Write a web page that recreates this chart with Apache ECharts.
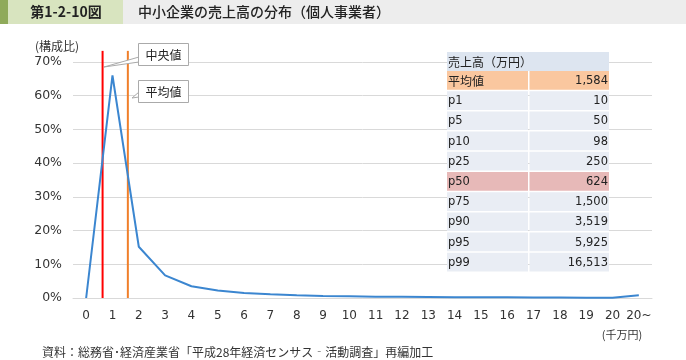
<!DOCTYPE html>
<html><head><meta charset="utf-8">
<script src="https://cdn.jsdelivr.net/npm/echarts@6/dist/echarts.min.js"></script>
<style>html,body{margin:0;padding:0;background:#fff}#c{width:686px;height:360px}</style>
</head><body><div id="c"></div>
<script>
var categories = ['0','1','2','3','4','5','6','7','8','9','10','11','12','13','14','15','16','17','18','19','20','20~'];
var shares = [0, 66, 15.2, 6.7, 3.5, 2.2, 1.5, 1.1, 0.8, 0.6, 0.5, 0.4, 0.35, 0.3, 0.25, 0.2, 0.2, 0.15, 0.15, 0.1, 0.1, 0.8];
var medianX = [0.624, 0.624];
var meanX = [1.584, 1.584];
var vLineY = [0, 73.3];
var yTicks = [0,10,20,30,40,50,60,70];
var tableHeader = '売上高（万円）';
var tableLabels = ['平均値','p1','p5','p10','p25','p50','p75','p90','p95','p99'];
var tableValues = ['1,584','10','50','98','250','624','1,500','3,519','5,925','16,513'];
var tableColors = ['#fac79f','#e9edf4','#e9edf4','#e9edf4','#e9edf4','#e7b9b8','#e9edf4','#e9edf4','#e9edf4','#e9edf4'];

var FONT = '"Noto Sans CJK JP", sans-serif';
var NUMF = '"DejaVu Sans", sans-serif';
var chart = echarts.init(document.getElementById('c'));

var graphics = [
  {type:'rect', shape:{x:0,y:0,width:8,height:24}, style:{fill:'#8faa5a'}},
  {type:'rect', shape:{x:8,y:0,width:115,height:24}, style:{fill:'#d8e4bf'}},
  {type:'rect', shape:{x:123,y:0,width:563,height:24}, style:{fill:'#ededed'}},
  {type:'text', x:66, y:12, style:{text:'第1-2-10図', font:'bold 14px '+FONT, fill:'#222', align:'center', verticalAlign:'middle'}},
  {type:'text', x:138, y:12, style:{text:'中小企業の売上高の分布（個人事業者）', font:'500 14px '+FONT, fill:'#222', align:'left', verticalAlign:'middle'}},
  {type:'text', x:35, y:46, style:{text:'(構成比)', font:'12px '+FONT, fill:'#333', verticalAlign:'middle'}},
  {type:'text', x:622, y:335, style:{text:'(千万円)', font:'11px '+FONT, fill:'#333', align:'center', verticalAlign:'middle'}},
  {type:'text', x:42, y:352, style:{text:'資料：総務省･経済産業省「平成28年経済センサス‐活動調査」再編加工', font:'12px '+FONT, fill:'#333', verticalAlign:'middle'}},
  // callouts
  {type:'polygon', shape:{points:[[104,67],[139,57],[139,62]]}, style:{fill:'#fff', stroke:'#aaa', lineWidth:1}, z:10},
  {type:'rect', shape:{x:138.5,y:43.5,width:50,height:22}, style:{fill:'#fff', stroke:'#aaa', lineWidth:1}, z:11},
  {type:'rect', shape:{x:139,y:56,width:2,height:7}, style:{fill:'#fff'}, z:12},
  {type:'text', x:163.5, y:55, style:{text:'中央値', font:'12px '+FONT, fill:'#222', align:'center', verticalAlign:'middle'}, z:13},
  {type:'polygon', shape:{points:[[132,98],[139,92],[139,97]]}, style:{fill:'#fff', stroke:'#aaa', lineWidth:1}, z:10},
  {type:'rect', shape:{x:138.5,y:80.5,width:50,height:22}, style:{fill:'#fff', stroke:'#aaa', lineWidth:1}, z:11},
  {type:'rect', shape:{x:139,y:91,width:2,height:7}, style:{fill:'#fff'}, z:12},
  {type:'text', x:163.5, y:92, style:{text:'平均値', font:'12px '+FONT, fill:'#222', align:'center', verticalAlign:'middle'}, z:13}
];
// table
var tx = 447, tw = 162, tcol = 81, ty = 52, hh = 19, rh = 20.2;
graphics.push({type:'rect', shape:{x:tx,y:ty,width:tw,height:hh}, style:{fill:'#dde5f0'}, z:20});
graphics.push({type:'text', x:tx+1, y:ty+hh/2+1, style:{text:tableHeader, font:'12px '+FONT, fill:'#222', verticalAlign:'middle'}, z:21});
tableLabels.forEach(function(l,i){
  var y = ty+hh+i*rh;
  graphics.push({type:'rect', shape:{x:tx,y:y,width:tcol,height:rh-1.5}, style:{fill:tableColors[i]}, z:20});
  graphics.push({type:'rect', shape:{x:tx+tcol+1.5,y:y,width:tw-tcol-1.5,height:rh-1.5}, style:{fill:tableColors[i]}, z:20});
  graphics.push({type:'text', x:tx+1, y:y+rh/2, style:{text:l, font:(i===0?'12px '+FONT:'11.5px '+NUMF), fill:'#222', verticalAlign:'middle'}, z:21});
  graphics.push({type:'text', x:tx+tw-1, y:y+rh/2, style:{text:tableValues[i], font:'11.5px '+NUMF, fill:'#222', align:'right', verticalAlign:'middle'}, z:21});
});

chart.setOption({
  animation:false,
  grid:{left:73, right:34, top:62, bottom:62},
  xAxis:[{
    type:'category', data:categories, boundaryGap:true,
    axisLine:{show:true, lineStyle:{color:'#d9d9d9', width:1}},
    axisTick:{show:false},
    axisLabel:{color:'#333', fontSize:12, fontFamily:NUMF, margin:12, interval:0}
  },{
    type:'value', min:-0.5, max:21.5, show:false
  }],
  yAxis:{
    type:'value', min:0, max:70, interval:10,
    axisLine:{show:false}, axisTick:{show:false},
    axisLabel:{color:'#333', fontSize:12.5, fontFamily:NUMF, margin:11, formatter:'{value}%'},
    splitLine:{lineStyle:{color:'#d9d9d9', width:1}}
  },
  series:[
    {type:'line', data:shares, symbol:'none', lineStyle:{color:'#3b86d0', width:2}, z:5},
    {type:'line', xAxisIndex:1, data:medianX.map(function(x,i){return [x, vLineY[i]];}), symbol:'none', clip:false, lineStyle:{color:'#ff0000', width:2}, z:4},
    {type:'line', xAxisIndex:1, data:meanX.map(function(x,i){return [x, vLineY[i]];}), symbol:'none', clip:false, lineStyle:{color:'#f07f2a', width:2}, z:4}
  ],
  graphic:graphics
});
</script></body></html>
